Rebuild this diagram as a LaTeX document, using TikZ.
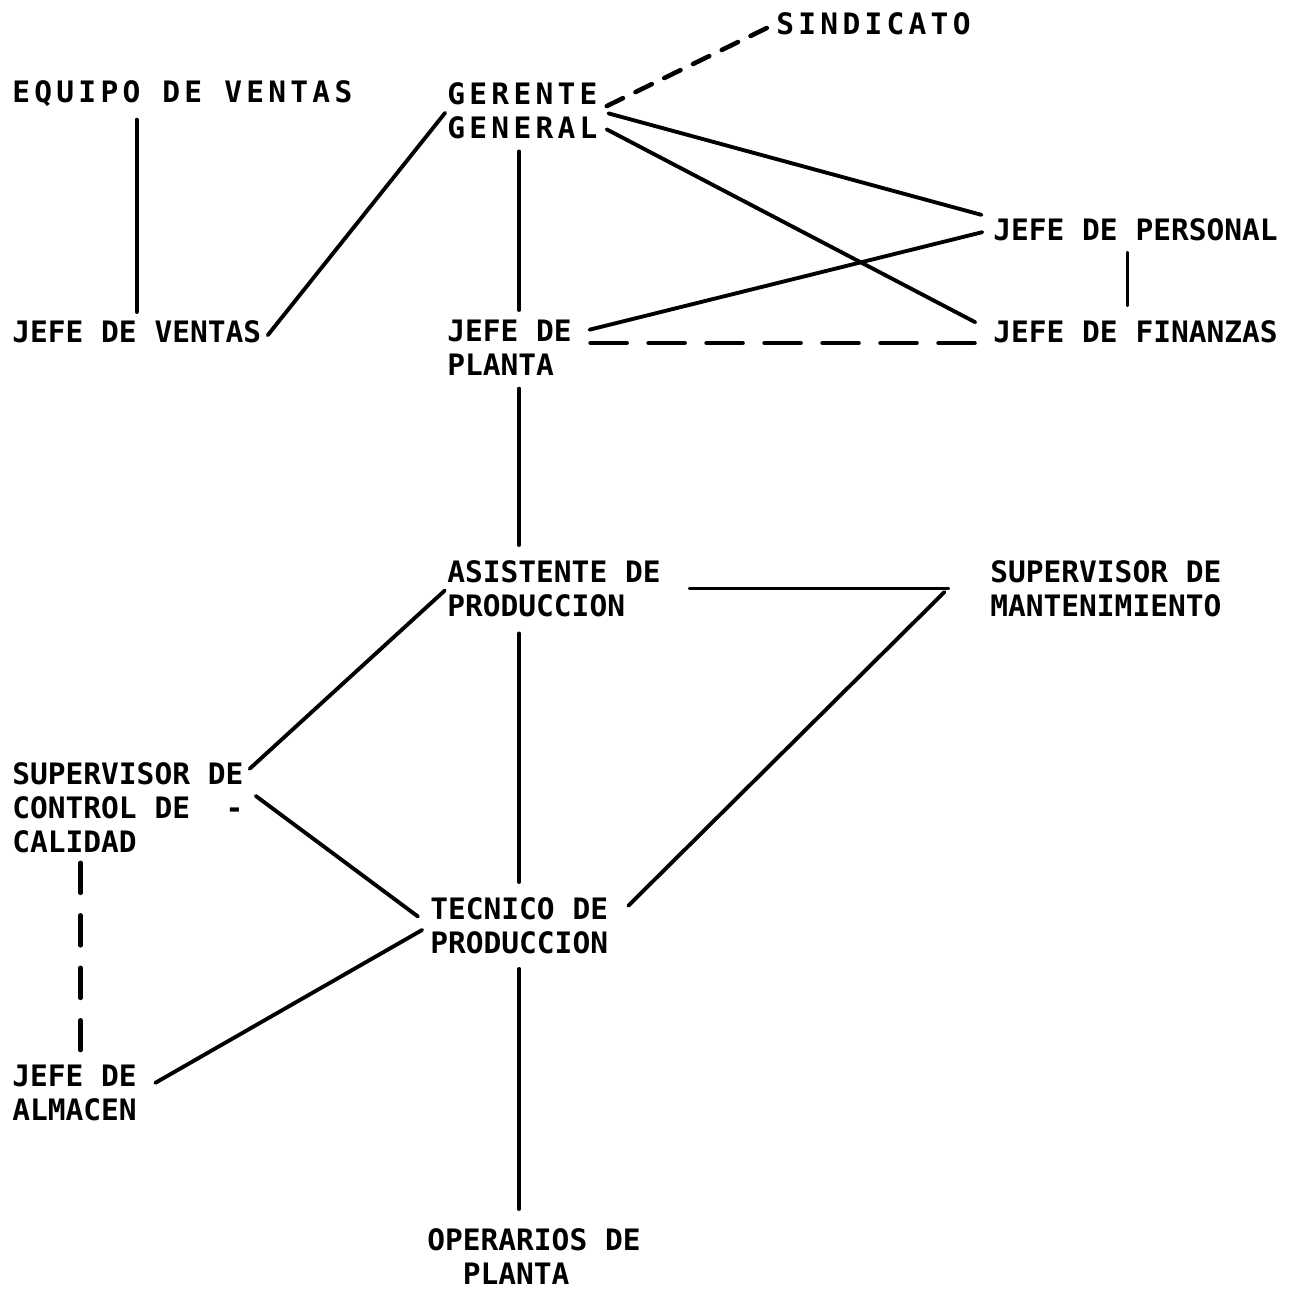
\documentclass[tikz,border=0pt]{standalone}
\usepackage{fontspec}
\setmonofont{DejaVu Sans Mono}
\newfontfamily\plotterancho[LetterSpace=14.5]{DejaVu Sans Mono}
\usepackage{tikz}
\usetikzlibrary{calc}
\tikzset{
    cargo/.style={
        anchor=north west, inner sep=0pt, align=left,
        font=\ttfamily\bfseries\fontsize{16.8pt}{19.3pt}\selectfont
    },
    cargoancho/.style={
        cargo, font=\plotterancho\bfseries\fontsize{16.8pt}{19.3pt}\selectfont
    },
    linea/.style={
        line width=2.2pt, line cap=round, draw=black
    },
    lineadash/.style={
        linea, line width=2.6pt, dash pattern=on 0.5cm off 0.3cm
    }
}

\begin{document}
\begin{tikzpicture}[x=0.02cm, y=-0.02cm]

    \useasboundingbox (0,0) rectangle (1295,1292);

    \node[cargoancho] (sindicato) at (776,12)   {SINDICATO};
    \node[cargoancho] (equipo)    at (12,80)    {EQUIPO DE VENTAS};
    \node[cargoancho] (gerente)   at (447,82)   {GERENTE\\GENERAL};
    \node[cargo]      (jventas)   at (12,320)   {JEFE DE VENTAS};
    \node[cargo]      (jplanta)   at (447,320)  {JEFE DE\\PLANTA};
    \node[cargo]      (jpersonal) at (993,218)  {JEFE DE PERSONAL};
    \node[cargo]      (jfinanzas) at (993,320)  {JEFE DE FINANZAS};
    \node[cargo]      (asistente) at (447,560)  {ASISTENTE DE\\PRODUCCION};
    \node[cargo]      (mantenim)  at (990,560)  {SUPERVISOR DE\\MANTENIMIENTO};
    \node[cargo]      (calidad)   at (12,762)   {SUPERVISOR DE\\CONTROL DE~~-\\CALIDAD};
    \node[cargo]      (tecnico)   at (430,897)  {TECNICO DE\\PRODUCCION};
    \node[cargo]      (almacen)   at (12,1065)  {JEFE DE\\ALMACEN};
    \node[cargo]      (operarios) at (427,1228) {OPERARIOS DE\\\hphantom{OO}PLANTA};

    \draw[lineadash, dash pattern=on 0.36cm off 0.28cm, shorten <=0.2cm, shorten >=0.12cm] (gerente.east) -- (sindicato.west);
    \draw[linea, shorten <=0.26cm, shorten >=0.16cm] (equipo.south -| jventas.north) -- (jventas.north);
    \draw[linea, shorten <=0.2cm, shorten >=0.06cm] (jventas.south east) -- (gerente.west);
    \draw[linea, shorten <=0.25cm, shorten >=0.2cm] (gerente.south -| tecnico.north) -- (jplanta.north -| tecnico.north);
    \draw[linea, shorten <=0.22cm, shorten >=0.24cm] (gerente.east) -- (jpersonal.north west);
    \draw[linea, shorten <=0.2cm, shorten >=0.4cm] ($(gerente.east)!0.5!(gerente.south east)$) -- (jfinanzas.west);
    \draw[linea, shorten <=0.36cm, shorten >=0.22cm] ($(jplanta.north east)!0.25!(jplanta.south east)$) -- (jpersonal.west);
    \draw[lineadash, dash pattern=on 0.72cm off 0.44cm, shorten <=0.37cm, shorten >=0.36cm] (jplanta.east |- jfinanzas.south west) -- (jfinanzas.south west);
    \draw[linea, shorten <=0.24cm, shorten >=0.3cm] ([xshift=-0.16cm]jpersonal.south) -- ([xshift=-0.16cm]jpersonal.south |- jfinanzas.north);
    \draw[linea, shorten <=0.25cm, shorten >=0.3cm] (jplanta.south -| tecnico.north) -- (asistente.north -| tecnico.north);
    \draw[linea, shorten <=0.58cm, shorten >=0.84cm] (asistente.east) -- (mantenim.west);
    \draw[linea, shorten <=0.1cm, shorten >=0.56cm] ([xshift=-0.84cm]mantenim.west) -- (tecnico.east);
    \draw[linea, shorten <=0.06cm, shorten >=0.16cm] (asistente.west) -- (calidad.16);
    \draw[linea, shorten <=0.33cm, shorten >=0.3cm] (asistente.south -| tecnico.north) -- (tecnico.north);
    \draw[linea, shorten <=0.3cm, shorten >=0.3cm] (calidad.10) -- (tecnico.west);
    \draw[linea, shorten <=0.18cm, shorten >=0.42cm] (tecnico.west) -- (almacen.east);
    \draw[lineadash, dash pattern=on 0.6cm off 0.45cm, shorten <=0.2cm, shorten >=0.3cm] ([xshift=0.12cm]almacen.north |- calidad.south) -- ([xshift=0.12cm]almacen.north);
    \draw[linea, shorten <=0.3cm, shorten >=0.38cm] (tecnico.south) -- (operarios.north -| tecnico.south);

\end{tikzpicture}
\end{document}
